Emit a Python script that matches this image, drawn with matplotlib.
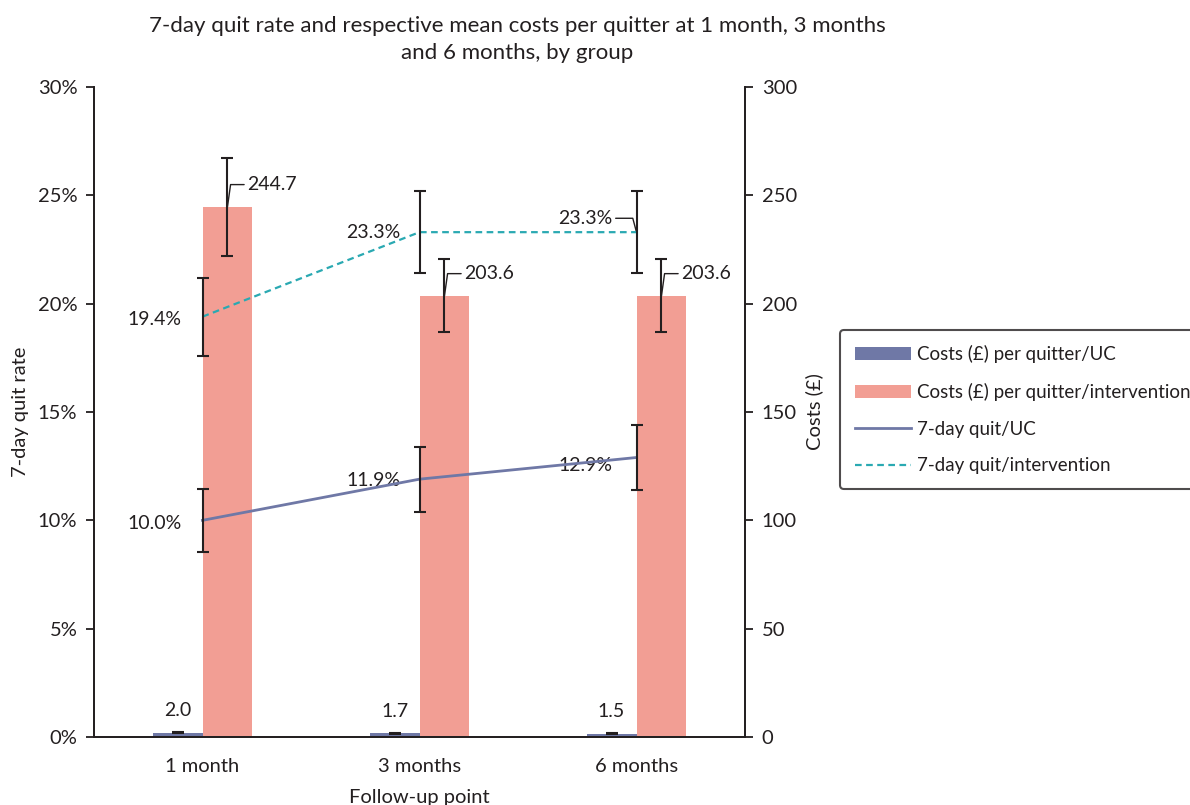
import matplotlib
matplotlib.use("Agg")
import matplotlib.pyplot as plt
from matplotlib.patches import Patch
from matplotlib.lines import Line2D
import numpy as np

plt.rcParams['font.family'] = ['Lato', 'DejaVu Sans']

# Follow-up points and group results
followup = ["1 month", "3 months", "6 months"]
cost_uc = [2.0, 1.7, 1.5]
cost_uc_err = [0.3, 0.2, 0.2]
cost_int = [244.7, 203.6, 203.6]
cost_int_err = [22.7, 16.8, 16.8]
quit_uc = [10.0, 11.9, 12.9]
quit_uc_err = [1.45, 1.5, 1.5]
quit_int = [19.4, 23.3, 23.3]
quit_int_err = [1.8, 1.9, 1.9]

rate_ticks = [0, 5, 10, 15, 20, 25, 30]
cost_ticks = [0, 50, 100, 150, 200, 250, 300]

legend_labels = ["Costs (£) per quitter/UC",
                 "Costs (£) per quitter/intervention",
                 "7-day quit/UC",
                 "7-day quit/intervention"]

UC_COLOR = "#6f78a6"
INT_COLOR = "#f29e94"
TEAL = "#2aa9b2"
INK = "#231f20"

W, H = 1190, 805
fig = plt.figure(figsize=(W / 100, H / 100), dpi=100)
ax_cost = fig.add_axes([94 / W, 68 / H, 651 / W, 650 / H])
ax_rate = ax_cost.twinx()

x = np.arange(len(followup))
bw = 0.23
err_kw = dict(fmt="none", ecolor=INK, elinewidth=1.5, capsize=4, capthick=1.5)

# Cost bars (right axis)
ax_cost.bar(x - bw / 2, cost_uc, bw, color=UC_COLOR, zorder=2)
ax_cost.bar(x + bw / 2, cost_int, bw, color=INT_COLOR, zorder=2)
ax_cost.errorbar(x - bw / 2, cost_uc, yerr=cost_uc_err, zorder=3, **err_kw)
ax_cost.errorbar(x + bw / 2, cost_int, yerr=cost_int_err, zorder=3, **err_kw)

lab_fs = 14
tick_fs = 14.5
for xi, v in zip(x, cost_uc):
    ax_cost.annotate(f"{v:.1f}", xy=(xi - bw / 2, v), xytext=(0, 16),
                     textcoords="offset points", ha="center", va="center",
                     fontsize=lab_fs, color=INK)

leader = dict(arrowstyle="-", color=INK, lw=1.0, shrinkA=0, shrinkB=0,
              relpos=(0, 0.5), connectionstyle="angle,angleA=0,angleB=82,rad=0")
for xi, v in zip(x, cost_int):
    ax_cost.annotate(f"{v:.1f}", xy=(xi + bw / 2, v), xytext=(14, 16),
                     textcoords="offset points", ha="left", va="center",
                     fontsize=lab_fs, color=INK, arrowprops=leader)

# Quit-rate lines (left axis)
ax_rate.plot(x, quit_uc, color=UC_COLOR, lw=2, zorder=4)
ax_rate.plot(x, quit_int, color=TEAL, lw=1.6, ls=(0, (3, 2)), zorder=4)
ax_rate.errorbar(x, quit_uc, yerr=quit_uc_err, zorder=5, **err_kw)
ax_rate.errorbar(x, quit_int, yerr=quit_int_err, zorder=5, **err_kw)

uc_offsets = [(-15, -2), (-14, -1), (-17, -6)]
for xi, v, off in zip(x, quit_uc, uc_offsets):
    ax_rate.annotate(f"{v:.1f}%", xy=(xi, v), xytext=off,
                     textcoords="offset points", ha="right", va="center",
                     fontsize=lab_fs, color=INK)

int_offsets = [(-15, -2), (-14, 0), (-17, 10)]
for i, (xi, v, off) in enumerate(zip(x, quit_int, int_offsets)):
    props = None
    if i == 2:
        props = dict(arrowstyle="-", color=INK, lw=1.0, shrinkA=0, shrinkB=0,
                     relpos=(1, 0.5),
                     connectionstyle="angle,angleA=0,angleB=105,rad=0")
    ax_rate.annotate(f"{v:.1f}%", xy=(xi, v), xytext=off,
                     textcoords="offset points", ha="right", va="center",
                     fontsize=lab_fs, color=INK, arrowprops=props)

# Axes styling
ax_cost.set_xlim(-0.5, len(followup) - 0.5)
ax_cost.set_ylim(0, 300)
ax_rate.set_ylim(0, 30)
ax_cost.set_xticks(x)
ax_cost.set_xticklabels(followup, fontsize=tick_fs, color=INK)
ax_cost.tick_params(axis="x", length=0, pad=15)
ax_cost.set_xlabel("Follow-up point", fontsize=tick_fs, color=INK, labelpad=10)

ax_cost.yaxis.tick_right()
ax_cost.yaxis.set_label_position("right")
ax_cost.set_yticks(cost_ticks)
ax_cost.set_yticklabels([str(t) for t in cost_ticks])
ax_cost.tick_params(axis="y", direction="out", length=6, width=1.3,
                    labelsize=tick_fs, colors=INK, pad=6)
ax_cost.set_ylabel("Costs (£)", fontsize=tick_fs, color=INK, labelpad=6)

ax_rate.yaxis.tick_left()
ax_rate.yaxis.set_label_position("left")
ax_rate.set_yticks(rate_ticks)
ax_rate.set_yticklabels([f"{t}%" for t in rate_ticks])
ax_rate.tick_params(axis="y", direction="out", length=6, width=1.3,
                    labelsize=tick_fs, colors=INK, pad=6)
ax_rate.set_ylabel("7-day quit rate", fontsize=tick_fs, color=INK, labelpad=6)

for a in (ax_cost, ax_rate):
    a.spines["top"].set_visible(False)
    for s in ("left", "right", "bottom"):
        a.spines[s].set_color(INK)
        a.spines[s].set_linewidth(1.3)

fig.suptitle("7-day quit rate and respective mean costs per quitter at 1 month, 3 months\n"
             "and 6 months, by group", fontsize=16, color=INK, y=1 - 16 / H,
             va="top", x=517 / W, linespacing=1.45)

handles = [Patch(facecolor=UC_COLOR), Patch(facecolor=INT_COLOR),
           Line2D([], [], color=UC_COLOR, lw=2),
           Line2D([], [], color=TEAL, lw=1.6, ls=(0, (3, 2)))]
leg = fig.legend(handles, legend_labels, loc="upper left",
                 bbox_to_anchor=(840 / W, 1 - 330 / H), borderaxespad=0,
                 frameon=True, fancybox=True, edgecolor=INK, fontsize=13.5,
                 handlelength=3.0, handletextpad=0.3, labelspacing=1.05,
                 borderpad=0.8)
leg.get_frame().set_linewidth(1.5)
for t in leg.get_texts():
    t.set_color(INK)

fig.savefig("out.png", dpi=100)
